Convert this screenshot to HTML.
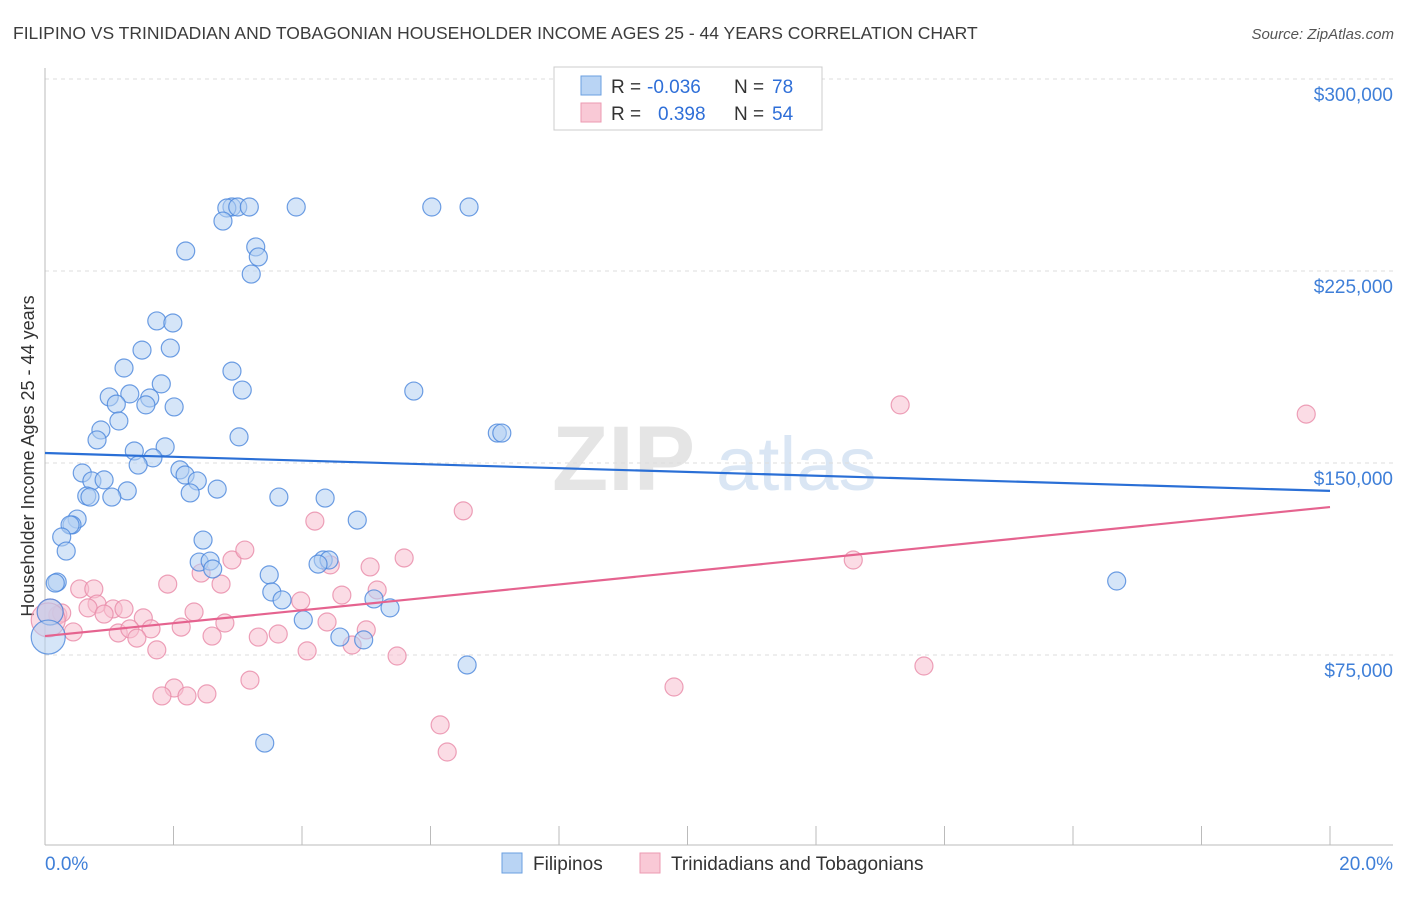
<!DOCTYPE html>
<html><head><meta charset="utf-8"><style>
body{margin:0;background:#fff;font-family:"Liberation Sans",sans-serif}
svg text{font-family:"Liberation Sans",sans-serif}
</style></head><body>
<svg id="chart" width="1406" height="892" viewBox="0 0 1406 892" xmlns="http://www.w3.org/2000/svg">
<text x="13" y="39" font-size="17.5" fill="#3c3c3c">FILIPINO VS TRINIDADIAN AND TOBAGONIAN HOUSEHOLDER INCOME AGES 25 - 44 YEARS CORRELATION CHART</text>
<text x="1394" y="39" font-size="15" fill="#555" text-anchor="end" font-style="italic">Source: ZipAtlas.com</text>
<g opacity="0.9">
<text x="552" y="490" font-size="92" fill="#e3e3e3" font-family="Liberation Serif" font-weight="bold">ZIP</text>
<text x="716" y="490" font-size="76" fill="#d6e4f3">atlas</text>
</g>
<g id="grid"></g>
<g id="axes"></g>
<g id="pts"></g>
<g id="lines"></g>
<g>
<rect x="554" y="67" width="268" height="63" fill="#fff" stroke="#ccc"/>
<rect x="581" y="76" width="20" height="19" fill="#b9d4f4" stroke="#6a9fe0"/>
<rect x="581" y="103" width="20" height="19" fill="#f9c9d6" stroke="#ec9ab2"/>
<text x="611" y="93" font-size="19" fill="#333">R = </text><text x="647" y="93" font-size="19" fill="#2f6fd8">-0.036</text>
<text x="734" y="93" font-size="19" fill="#333">N = </text><text x="772" y="93" font-size="19" fill="#2f6fd8">78</text>
<text x="611" y="120" font-size="19" fill="#333">R = </text><text x="658" y="120" font-size="19" fill="#2f6fd8">0.398</text>
<text x="734" y="120" font-size="19" fill="#333">N = </text><text x="772" y="120" font-size="19" fill="#2f6fd8">54</text>
</g>
<g>
<rect x="502" y="853" width="20" height="20" fill="#b9d4f4" stroke="#6a9fe0"/>
<text x="533" y="870" font-size="19" fill="#333">Filipinos</text>
<rect x="640" y="853" width="20" height="20" fill="#f9c9d6" stroke="#ec9ab2"/>
<text x="671" y="870" font-size="19" fill="#333">Trinidadians and Tobagonians</text>
</g>
</svg>
<script>
const blueX=[2.91,2.83,3.00,3.18,3.91,6.02,6.60,2.77,2.19,3.28,3.32,3.21,1.74,1.99,1.51,1.95,1.23,2.91,1.81,3.07,5.74,1.00,1.32,1.63,1.11,1.57,2.01,1.15,0.87,3.02,0.81,7.04,7.11,1.87,1.39,1.68,1.45,0.58,2.10,2.18,2.37,0.73,0.92,2.68,1.28,2.26,0.65,0.70,1.04,3.64,4.36,0.50,4.86,0.42,0.39,0.26,2.46,0.33,2.40,2.57,4.33,4.42,4.25,2.61,3.49,0.19,0.16,3.53,3.69,5.12,5.37,4.02,4.59,4.96,6.57,3.42,16.68,0.08,0.05];
const blueY=[250,249.6,250,250,250,250,250,244.5,232.8,234.4,230.5,223.8,205.5,204.7,194.1,194.9,187.1,185.9,180.9,178.5,178.1,175.8,177.0,175.4,173.0,172.7,171.9,166.4,162.9,160.2,159.0,161.7,161.7,156.3,154.7,152.0,149.2,146.1,147.3,145.3,143.0,143.0,143.4,139.8,139.1,138.3,137.1,136.7,136.7,136.7,136.3,128.1,127.7,125.8,125.8,121.1,119.9,115.6,111.3,111.7,112.1,112.1,110.5,108.6,106.3,103.5,103.1,99.6,96.5,96.9,93.4,88.7,82.0,80.9,71.1,40.6,103.9,91.8,82.0];
const pinkX=[13.31,19.63,6.51,4.20,5.59,12.58,2.91,3.11,5.06,4.44,2.43,0.54,0.76,1.91,2.74,4.62,3.98,0.81,0.67,1.06,1.23,0.92,2.32,0.20,0.26,1.53,2.80,4.39,1.65,2.12,1.14,1.32,0.44,2.60,3.32,3.63,5.00,1.43,4.78,1.74,4.08,5.48,13.68,3.19,2.01,1.82,2.21,2.52,9.79,6.15,6.26,5.17,0.08,0.05];
const pinkY=[172.7,169.1,131.3,127.3,112.9,112.1,112.1,116.0,109.4,110.2,107.0,100.8,100.8,102.7,102.7,98.4,96.1,94.9,93.4,93.0,93.0,91.0,91.8,90.6,91.4,89.5,87.5,87.9,85.2,85.9,83.6,85.2,84.0,82.4,82.0,83.2,84.8,81.6,78.9,77.0,76.6,74.6,70.7,65.2,62.1,59.0,59.0,59.8,62.5,47.7,37.1,100.4,91.8,88.7];
const blueTrend=[153.9,139.1];
const pinkTrend=[82.4,132.8];
const yTicks=[75,150,225,300];
const yTickLabels=["$75,000","$150,000","$225,000","$300,000"];
const xTicks=[0,2,4,6,8,10,12,14,16,18,20];
const NS="http://www.w3.org/2000/svg";
const X=v=>45+v*64.25;
const Y=v=>847-v*2.56;
function mk(tag,attrs,parent){const e=document.createElementNS(NS,tag);for(const k in attrs)e.setAttribute(k,attrs[k]);parent.appendChild(e);return e;}
const grid=document.getElementById('grid'),axes=document.getElementById('axes'),pts=document.getElementById('pts'),lines=document.getElementById('lines');
yTicks.forEach((t,i)=>{
 const l=mk('line',{x1:45,x2:1393,y1:Y(t),y2:Y(t),stroke:'#ddd','stroke-dasharray':'4,4'},grid);
 
 
 const tx=mk('text',{x:1393,y:Y(t)+22,'font-size':19,fill:'#3f7fd8','text-anchor':'end'},axes);
 tx.textContent=yTickLabels[i];
 
 
});
const ax=mk('line',{x1:45,x2:1393,y1:845,y2:845,stroke:'#bbb'},axes);


const ay=mk('line',{x1:45,x2:45,y1:68,y2:845,stroke:'#bbb'},axes);


xTicks.forEach(t=>{
 const l=mk('line',{x1:X(t),x2:X(t),y1:826,y2:845,stroke:'#bbb'},axes);
 
 
});
const xl0=mk('text',{x:45,y:870,'font-size':19,fill:'#3f7fd8'},axes);xl0.textContent='0.0%';


const xl1=mk('text',{x:1393,y:870,'font-size':19,fill:'#3f7fd8','text-anchor':'end'},axes);xl1.textContent='20.0%';


const yt=mk('text',{x:0,y:0,'font-size':18,fill:'#333','text-anchor':'middle',transform:'translate(34,456) rotate(-90)'},axes);
yt.textContent='Householder Income Ages 25 - 44 years';


function drawSeries(xs,ys,fill,stroke,name){
 xs.forEach((x,i)=>{
  const big=(i>=xs.length-2 && x<0.1);
  const c=mk('circle',{cx:X(x),cy:Y(ys[i]),r:big?(i==xs.length-1?17:13):9,fill:fill,'fill-opacity':0.55,stroke:stroke,'stroke-opacity':0.8,'stroke-width':1.2},pts);
  
  
 });
}
drawSeries(pinkX,pinkY,'#f7bfd0','#e98aa8','trinidadian-point');
drawSeries(blueX,blueY,'#b3cff2','#4a86dc','filipino-point');
const bl=mk('line',{x1:X(0),y1:Y(blueTrend[0]),x2:X(20),y2:Y(blueTrend[1]),stroke:'#2a6fd6','stroke-width':2.2},lines);


const pl=mk('line',{x1:X(0),y1:Y(pinkTrend[0]),x2:X(20),y2:Y(pinkTrend[1]),stroke:'#e5638f','stroke-width':2.2},lines);


</script>
</body></html>
